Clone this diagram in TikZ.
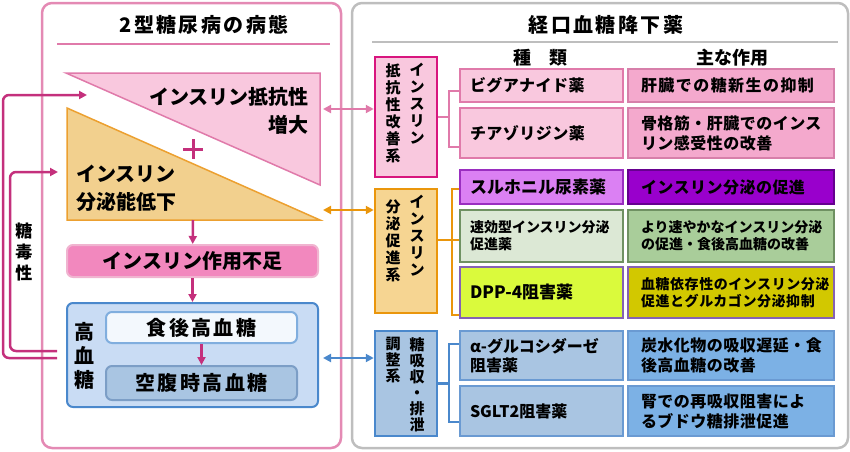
\documentclass[tikz,border=0pt]{standalone}
\usepackage{fontspec}
\setmainfont{Noto Sans CJK JP}
\usetikzlibrary{arrows.meta,positioning}

\definecolor{panelpink}{HTML}{E48AB4}
\definecolor{panelgray}{HTML}{BEBEBE}
\definecolor{magarrow}{HTML}{C4307C}
\definecolor{resfill}{HTML}{F9C8DE}
\definecolor{resline}{HTML}{E07AAA}
\definecolor{secfill}{HTML}{F2D08E}
\definecolor{secline}{HTML}{ECA030}
\definecolor{lackfill}{HTML}{F288BE}
\definecolor{lackline}{HTML}{F0B4D0}
\definecolor{hgfill}{HTML}{C9DCF4}
\definecolor{blueline}{HTML}{4A88CC}
\definecolor{ppfill}{HTML}{F3F8FD}
\definecolor{ppline}{HTML}{80AEDE}
\definecolor{fbsfill}{HTML}{A9C5E2}
\definecolor{fbsline}{HTML}{7C9EC6}
\definecolor{catpink}{HTML}{D8157E}
\definecolor{orangeline}{HTML}{EA960C}
\definecolor{catorange}{HTML}{F6D592}
\definecolor{funcpink}{HTML}{F4A9CD}
\definecolor{funcpinkline}{HTML}{D77FAA}
\definecolor{sufill}{HTML}{DB80F3}
\definecolor{suline}{HTML}{9A2EC0}
\definecolor{sufunc}{HTML}{9900CC}
\definecolor{sufuncline}{HTML}{66008F}
\definecolor{glfill}{HTML}{DCE8D5}
\definecolor{glline}{HTML}{6F9162}
\definecolor{glfunc}{HTML}{A9CD9A}
\definecolor{dppfill}{HTML}{DAFA3C}
\definecolor{dppline}{HTML}{8562B4}
\definecolor{dppfunc}{HTML}{D2C800}
\definecolor{abfill}{HTML}{A9C5E2}
\definecolor{abline}{HTML}{6A9AD2}
\definecolor{abfunc}{HTML}{7CB1E5}

\tikzset{
  panel/.style={draw, rounded corners=10pt, line width=2.5pt},
  bigtext/.style={inner sep=0pt, font=\bfseries\fontsize{20}{28}\selectfont},
  titletext/.style={inner sep=0pt, font=\bfseries\fontsize{20}{22}\selectfont\addfontfeature{LetterSpace=12}},
  headtext/.style={inner sep=0pt, font=\bfseries\fontsize{18}{20}\selectfont},
  leftbox/.style={draw, line width=2pt, rounded corners=6pt, inner sep=0pt,
    font=\bfseries\fontsize{20}{24}\selectfont},
  spaced/.style={font=\bfseries\fontsize{20}{24}\selectfont\addfontfeature{LetterSpace=12}},
  catbox/.style={draw, line width=2.5pt, minimum width=62pt, minimum height=#1},
  vcol/.style={align=center, inner sep=0pt, font=\bfseries\fontsize{15}{17}\selectfont},
  tbox/.style={draw, line width=2pt, inner xsep=10pt, inner ysep=0pt, align=left},
  drugbox/.style={tbox, text width=143pt, minimum height=#1},
  funcbox/.style={tbox, text width=180pt, inner xsep=13pt, minimum height=#1},
  tsmall/.style={font=\bfseries\fontsize{14}{17}\selectfont},
  tsmallwide/.style={font=\bfseries\fontsize{14}{17}\selectfont\addfontfeature{LetterSpace=4}},
  tmid/.style={font=\bfseries\fontsize{16}{19}\selectfont},
  tbig/.style={font=\bfseries\fontsize{16}{20}\selectfont\addfontfeature{LetterSpace=3}},
  tbigwide/.style={font=\bfseries\fontsize{16}{20}\selectfont\addfontfeature{LetterSpace=9}},
  bracket/.style={line width=2.5pt},
  flow/.style={->, magarrow, line width=2.5pt}
}

\begin{document}
\begin{tikzpicture}[x=1pt, y=-1pt, >={Triangle[length=8pt,width=8pt]}]
	\useasboundingbox (0,0) rectangle (850,451);
	
	% two panels
	\draw[panel, panelpink] (42,3) rectangle (341,448);
	\draw[panel, panelgray] (352,3) rectangle (848,448);
	\node[titletext] (lefttitle) at (204,25) {2型糖尿病の病態};
	\node[titletext] (righttitle) at (606,25) {経口血糖降下薬};
	\draw[resline, line width=2pt] (57,44) -- (330,44);
	\draw[panelgray, line width=2.5pt] (372,42) -- (838,42);
	
	% pathology side
	\draw[fill=resfill, draw=resline, line width=1.5pt] (66,73) -- (320,73) -- (320,185) -- cycle;
	\draw[fill=secfill, draw=secline, line width=1.5pt] (67,108) -- (67,220) -- (320,220) -- cycle;
	\node[bigtext, anchor=east, align=right] (restext) at (309,111) {インスリン抵抗性\\増大};
	\node[bigtext, anchor=west, align=left] (sectext) at (76,188.5) {インスリン\\分泌能低下};
	\draw[magarrow, line width=3pt] (183,149) -- (203,149) (193,139) -- (193,159);
	\coordinate (secbot) at (193,220);
	
	\node[leftbox, draw=lackline, fill=lackfill, minimum width=251pt, minimum height=32pt] (lack) at (192.5,261) {インスリン作用不足};
	\node[leftbox, draw=blueline, fill=hgfill, minimum width=251pt, minimum height=104pt] (hg) at (192.5,355) {};
	\node[vcol, font=\bfseries\fontsize{20}{24}\selectfont] (hgtext) at (84,356) {高\\血\\糖};
	\node[leftbox, spaced, draw=ppline, fill=ppfill, minimum width=191pt, minimum height=31pt] (pp) at (201.5,327.5) {食後高血糖};
	\node[leftbox, spaced, draw=fbsline, fill=fbsfill, minimum width=191pt, minimum height=34pt] (fbs) at (201.5,383) {空腹時高血糖};
	
	\path[flow]
	(secbot) edge (lack)
	(lack) edge (hg)
	(pp) edge (fbs);
	
	% glucotoxicity loops
	\coordinate (gt1s) at (57,351);
	\coordinate (gt1c) at (10,260);
	\coordinate (gt1e) at (58,172);
	\coordinate (gt2s) at (57,358);
	\coordinate (gt2c) at (3,250);
	\coordinate (gt2e) at (87,95);
	\draw[flow, rounded corners=6pt] (gt1s) -| (gt1c) |- (gt1e);
	\draw[flow, rounded corners=6pt] (gt2s) -| (gt2c) |- (gt2e);
	\node[vcol, font=\bfseries\fontsize{17}{21}\selectfont] (gtox) at (24,252) {糖\\毒\\性};
	
	% drug side
	\node[headtext] (kind) at (540,58) {種　類};
	\node[headtext] (effect) at (732,58) {主な作用};
	
	\node[catbox=120pt, draw=catpink, fill=resfill] (cat1) at (406,117) {};
	\node[vcol, anchor=north] (cat1a) at (417,63) {イ\\ン\\ス\\リ\\ン};
	\node[vcol, anchor=north] (cat1b) at (393,63) {抵\\抗\\性\\改\\善\\系};
	\node[catbox=124pt, draw=orangeline, fill=catorange] (cat2) at (406,251) {};
	\node[vcol] (cat2a) at (417,236) {イ\\ン\\ス\\リ\\ン};
	\node[vcol] (cat2b) at (393,241) {分\\泌\\促\\進\\系};
	\node[catbox=105pt, draw=blueline, fill=abfill] (cat3) at (406,383.5) {};
	\node[vcol, anchor=north, font=\bfseries\fontsize{15}{16}\selectfont] (cat3a) at (417,337) {糖\\吸\\収\\・\\排\\泄};
	\node[vcol, anchor=north, font=\bfseries\fontsize{15}{16}\selectfont] (cat3b) at (393,337) {調\\整\\系};
	
	\node[drugbox=33pt, tbig, draw=resline, fill=resfill] (r1d) at (541.5,85.5) {ビグアナイド薬};
	\node[funcbox=33pt, tbigwide, draw=funcpinkline, fill=funcpink] (r1f) at (731,85.5) {肝臓での糖新生の抑制};
	\node[drugbox=50pt, tbig, draw=resline, fill=resfill] (r2d) at (541.5,133) {チアゾリジン薬};
	\node[funcbox=50pt, tbig, draw=funcpinkline, fill=funcpink] (r2f) at (731,133) {骨格筋・肝臓でのインス\\リン感受性の改善};
	
	\node[drugbox=34pt, font=\bfseries\fontsize{17}{20}\selectfont, draw=suline, fill=sufill] (r3d) at (541.5,187) {スルホニル尿素薬};
	\node[funcbox=34pt, tbig, draw=sufuncline, fill=sufunc] (r3f) at (731,187) {インスリン分泌の促進};
	\node[drugbox=52pt, tsmall, draw=glline, fill=glfill] (r4d) at (541.5,236) {速効型インスリン分泌\\促進薬};
	\node[funcbox=52pt, tsmall, draw=glline, fill=glfunc] (r4f) at (731,236) {より速やかなインスリン分泌\\の促進・食後高血糖の改善};
	\node[drugbox=51pt, font=\bfseries\fontsize{17}{20}\selectfont, draw=dppline, fill=dppfill] (r5d) at (541.5,292.5) {DPP-4阻害薬};
	\node[funcbox=51pt, tsmallwide, draw=dppline, fill=dppfunc] (r5f) at (731,292.5) {血糖依存性のインスリン分泌\\促進とグルカゴン分泌抑制};
	
	\node[drugbox=49pt, tmid, draw=abline, fill=abfill] (r6d) at (541.5,355.5) {α-グルコシダーゼ\\阻害薬};
	\node[funcbox=49pt, tbig, draw=abline, fill=abfunc] (r6f) at (731,355.5) {炭水化物の吸収遅延・食\\後高血糖の改善};
	\node[drugbox=50pt, tmid, draw=abline, fill=abfill] (r7d) at (541.5,411) {SGLT2阻害薬};
	\node[funcbox=50pt, tbig, draw=abline, fill=abfunc] (r7f) at (731,411) {腎での再吸収阻害によ\\るブドウ糖排泄促進};
	
	% brackets
	\coordinate (b1t) at (449,91);
	\coordinate (b1b) at (449,147);
	\draw[bracket, resline] (r1d.west |- b1t) -- (b1t) -- (b1b) -- (r2d.west |- b1b)
	(cat1.east) -- (cat1.east -| b1t);
	\coordinate (b2t) at (452,189);
	\coordinate (b2m) at (452,240);
	\coordinate (b2b) at (452,315);
	\draw[bracket, orangeline] (r3d.west |- b2t) -- (b2t) -- (b2b) -- (r5d.west |- b2b)
	(r4d.west |- b2m) -- (b2m) (cat2.east |- b2m) -- (b2m);
	\coordinate (b3t) at (449,344);
	\coordinate (b3b) at (449,422);
	\draw[bracket, blueline] (r6d.west |- b3t) -- (b3t) -- (b3b) -- (r7d.west |- b3b)
	(cat3.east) -- (cat3.east -| b3t);
	
	% links between the panels
	\coordinate (resR) at (323,109);
	\coordinate (secR) at (323,210);
	\coordinate (hgR) at (323,358);
	\draw[<->, resline, line width=2.5pt] (resR) -- (resR -| cat1.west);
	\draw[<->, orangeline, line width=2.5pt] (secR) -- (secR -| cat2.west);
	\draw[<->, blueline, line width=2.5pt] (hgR) -- (hgR -| cat3.west);
\end{tikzpicture}
\end{document}
